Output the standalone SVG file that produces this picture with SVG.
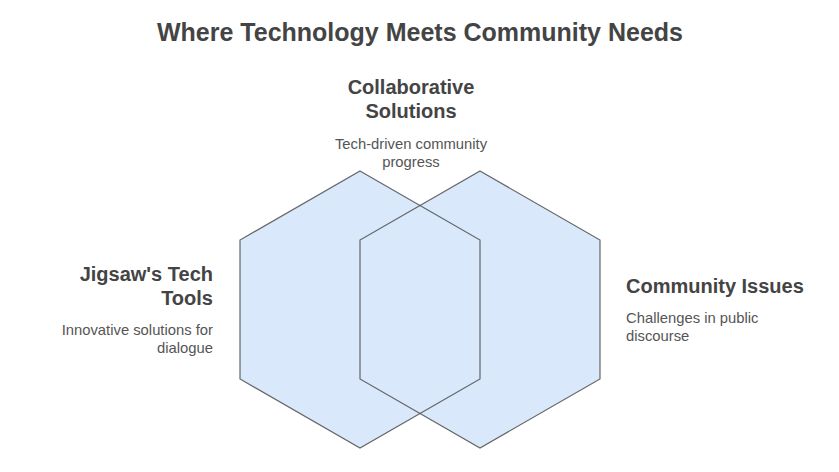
<svg xmlns="http://www.w3.org/2000/svg" width="839" height="472" viewBox="0 0 839 472">
<style>
.hex{fill:#dae8fc;stroke:none}
.out{fill:none;stroke:#4d4d4d;stroke-width:1.2;stroke-opacity:0.85}
.t{font-family:"Liberation Sans",Arial,sans-serif;fill:#444444}
.h{font-weight:bold;font-size:20px}
.d{font-size:14.8px;fill:#555555}
</style>
<rect width="839" height="472" fill="#ffffff"/>
<text class="t" x="420" y="41" text-anchor="middle" font-weight="bold" font-size="25" fill="#404040">Where Technology Meets Community Needs</text>
<g id="shapes">
<polygon id="hex-left" class="hex" points="360,171 480,240 480,379 360,448 240,379 240,240"/>
<polygon id="hex-right" class="hex" points="480,171 600,240 600,379 480,448 360,379 360,240"/>
<polygon class="out" points="360,171 480,240 480,379 360,448 240,379 240,240"/>
<polygon class="out" points="480,171 600,240 600,379 480,448 360,379 360,240"/>
</g>
<g id="node-collab">
<text class="t h" x="411" y="94" text-anchor="middle">Collaborative</text>
<text class="t h" x="411" y="118" text-anchor="middle">Solutions</text>
<text class="t d" x="411" y="149" text-anchor="middle">Tech-driven community</text>
<text class="t d" x="411" y="167" text-anchor="middle">progress</text>
</g>
<g id="node-jigsaw">
<text class="t h" x="213" y="281" text-anchor="end">Jigsaw's Tech</text>
<text class="t h" x="213" y="305" text-anchor="end">Tools</text>
<text class="t d" x="213" y="335" text-anchor="end">Innovative solutions for</text>
<text class="t d" x="213" y="353" text-anchor="end">dialogue</text>
</g>
<g id="node-community">
<text class="t h" x="626" y="293">Community Issues</text>
<text class="t d" x="626" y="323">Challenges in public</text>
<text class="t d" x="626" y="341">discourse</text>
</g>
<g id="connectors"></g>
</svg>
